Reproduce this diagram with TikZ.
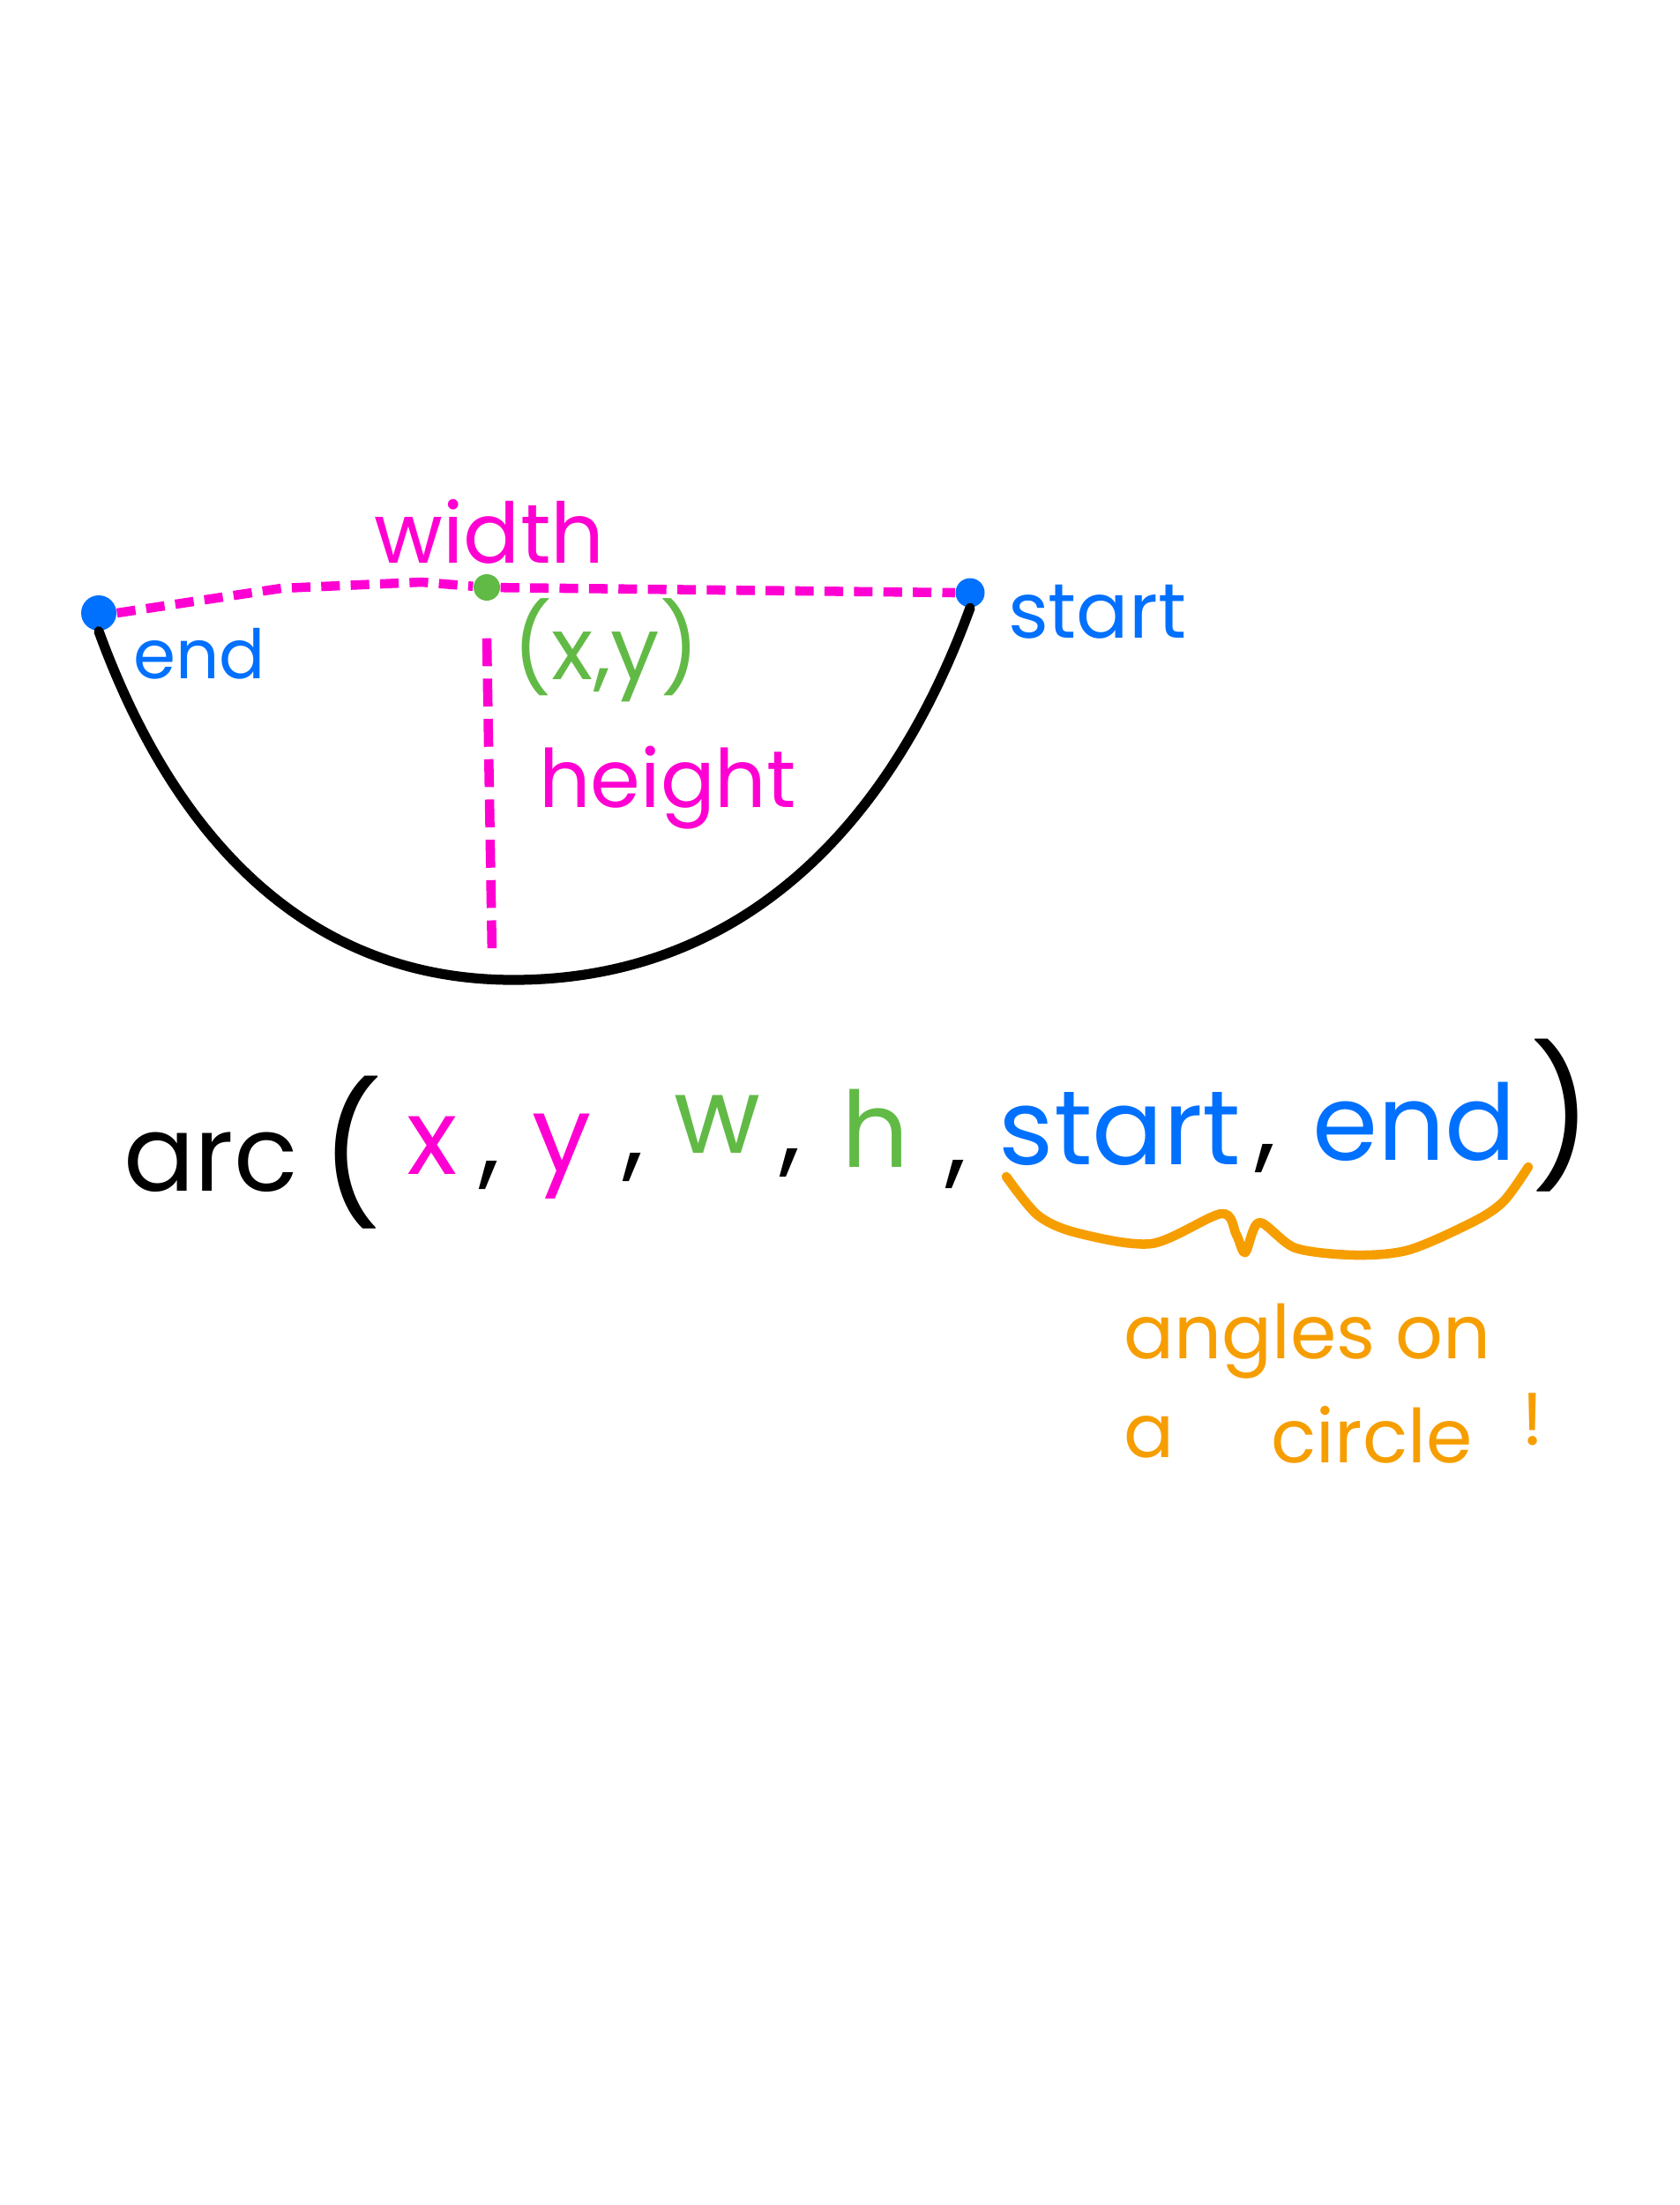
\documentclass[tikz,border=0pt]{standalone}
\usepackage{fontspec}
\setmainfont{Poppins}
\usepackage{tikz}
\usetikzlibrary{calc}
\definecolor{magentaink}{RGB}{255,0,210}
\definecolor{blueink}{RGB}{0,112,255}
\definecolor{greenink}{RGB}{98,186,70}
\definecolor{orangeink}{RGB}{246,158,0}
\tikzset{
  dot/.style={circle, fill=#1, inner sep=0pt, minimum size=0.33cm},
  widthline/.style={magentaink, line width=3pt, dash pattern=on 6pt off 3.5pt},
  heightline/.style={magentaink, line width=3pt, dash pattern=on 9pt off 4pt},
  arcline/.style={black, line width=3.2pt, line cap=round},
  brace/.style={orangeink, line width=3pt, line cap=round, line join=round},
  lbl/.style={inner sep=0pt, text=#1, font=\fontsize{27}{32}\selectfont},
  code/.style={inner sep=0pt, anchor=base, text=#1, font=\fontsize{34}{40}\selectfont},
  note/.style={inner sep=0pt, anchor=base west, text=orangeink, font=\fontsize{24}{29}\selectfont}
}

\begin{document}
\begin{tikzpicture}
    \fill[white] (0,0) rectangle (19.04,-25);
    \useasboundingbox (0,0) rectangle (19.04,-25);

    % the sketch of the arc
    \node[dot=blueink, minimum size=0.4cm] (enddot) at (1.12,-6.95) {};
    \node[dot=blueink] (startdot) at (11.0,-6.72) {};
    \node[dot=greenink, minimum size=0.3cm] (ctr) at (5.52,-6.66) {};
    \coordinate (bottom) at (5.82,-11.11);
    \coordinate (hend) at (5.58,-10.84);

    \draw[widthline] (enddot.east) -- (3.19,-6.67) -- (4.78,-6.60) -- (ctr) -- (startdot.west);
    \draw[heightline] ([yshift=-0.42cm]ctr.south) -- (hend);
    \draw[arcline] (enddot.south) to[out=-70, in=180] (bottom) to[out=0, in=-110] (startdot.south);

    \node[lbl=magentaink] (width) at (5.55,-6.03) {width};
    \node[lbl=blueink, font=\fontsize{22}{26}\selectfont] (endlbl) at (2.26,-7.41) {end};
    \node[lbl=blueink, font=\fontsize{25}{30}\selectfont] (startlbl) at (12.44,-6.94) {start};
    \node[lbl=greenink, font=\fontsize{28}{33}\selectfont] (xy) at (6.87,-7.37) {(x,y)};
    \node[lbl=magentaink, font=\fontsize{26}{31}\selectfont] (height) at (7.57,-8.93) {height};

    % the call
    \node[code=black] (fn) at (2.39,-13.5) {arc};
    \node[inner sep=0pt, font=\fontsize{44}{50}\selectfont] (lp) at (3.99,-13.07) {(};
    \node[code=magentaink] (px) at (4.90,-13.31) {x};
    \node[code=black] (c1) at (5.55,-13.31) {,};
    \node[code=magentaink] (py) at (6.37,-13.28) {y};
    \node[code=black] (c2) at (7.18,-13.22) {,};
    \node[code=greenink] (pw) at (8.13,-13.07) {w};
    \node[code=black] (c3) at (8.96,-13.17) {,};
    \node[code=greenink] (ph) at (9.93,-13.23) {h};
    \node[code=black] (c4) at (10.84,-13.3) {,};
    \node[code=blueink] (pstart) at (12.70,-13.2) {start};
    \node[code=black] (c5) at (14.35,-13.12) {,};
    \node[code=blueink] (pend) at (16.04,-13.15) {end};
    \node[inner sep=0pt, font=\fontsize{44}{50}\selectfont] (rp) at (17.71,-12.65) {)};

    \coordinate (bl) at (11.41,-13.34);
    \coordinate (br) at (17.33,-13.23);
    \draw[brace] plot[smooth, tension=0.5] coordinates {(bl) (11.77,-13.78) (12.22,-13.98) (13.06,-14.10)
      (13.85,-13.76) (14.02,-14.0) (14.12,-14.2) (14.28,-13.86) (14.69,-14.15) (15.37,-14.23)
      (15.98,-14.17) (16.71,-13.85) (17.05,-13.62) (br)};

    \node[note] (angles) at (12.74,-15.4) {angles on};
    \node[note] (a) at (12.74,-16.52) {a};
    \node[note] (circle) at (14.41,-16.58) {circle};
    \node[note] (bang) at (17.25,-16.38) {!};
\end{tikzpicture}
\end{document}
